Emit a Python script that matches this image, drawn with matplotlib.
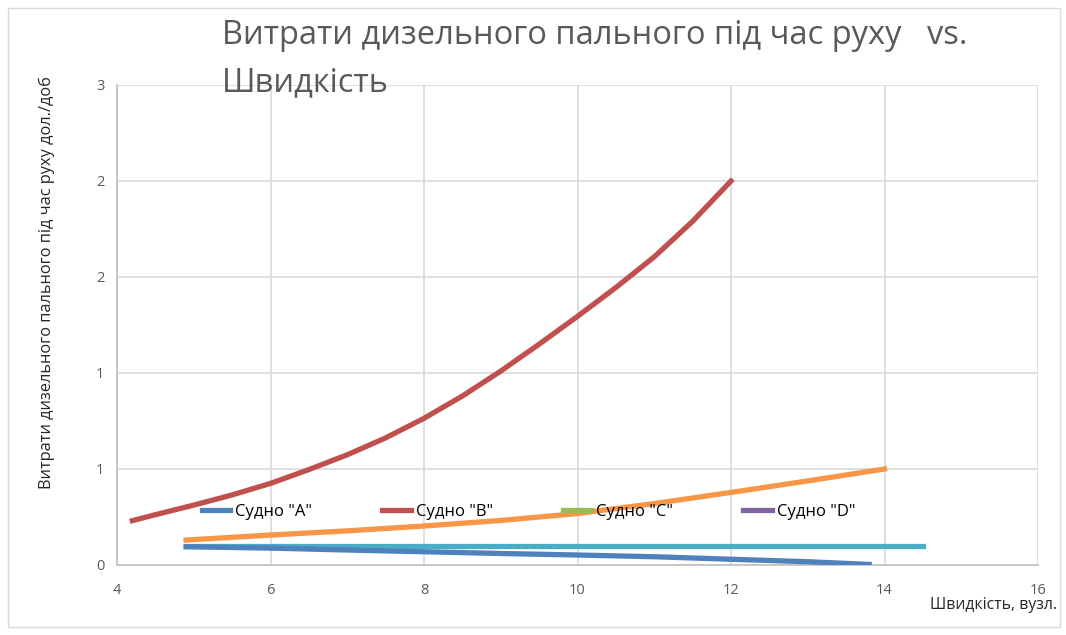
import matplotlib
matplotlib.use('Agg')
import matplotlib.pyplot as plt
from matplotlib.patches import Rectangle
from matplotlib.ticker import FuncFormatter, MultipleLocator
import numpy as np

plt.rcParams['font.family'] = ['Open Sans', 'DejaVu Sans']

# data
x_a = [4.9, 6, 7, 8, 9, 10, 11, 12, 13, 13.8]
y_a = [0.095, 0.088, 0.078, 0.069, 0.060, 0.052, 0.043, 0.030, 0.017, 0.003]

x_b = [4.2, 4.5, 5, 5.5, 6, 6.5, 7, 7.5, 8, 8.5, 9, 9.5, 10, 10.5, 11, 11.5, 12]
y_b = [0.231, 0.262, 0.312, 0.365, 0.425, 0.497, 0.574, 0.662, 0.764, 0.88,
       1.01, 1.15, 1.295, 1.445, 1.605, 1.79, 2.0]

x_e = [4.9, 6, 7, 8, 9, 10, 11, 12, 13, 14]
y_e = [0.13, 0.156, 0.178, 0.203, 0.232, 0.268, 0.32, 0.378, 0.438, 0.5]

x_f = [4.9, 14.5]
y_f = [0.099, 0.099]

labels = ['Судно "A"', 'Судно "B"', 'Судно "C"', 'Судно "D"']
colors = ['#4F81BD', '#C0504D', '#9BBB59', '#8064A2']
extra_colors = ['#F79646', '#4BACC6']

title = 'Витрати дизельного пального під час руху   vs.\nШвидкість'
ylabel = 'Витрати дизельного пального під час руху дол./доб'
xlabel = 'Швидкість, вузл.'

fig = plt.figure(figsize=(10.66, 6.35), dpi=100)
ax = fig.add_axes([117 / 1066, 1 - 565 / 635, (1038 - 117) / 1066, (565 - 85) / 635])

lw = 3.8
ax.plot(x_e, y_e, color=extra_colors[0], lw=lw, zorder=2)
ax.plot(x_f, y_f, color=extra_colors[1], lw=lw, zorder=2)
ax.plot(x_a, y_a, color=colors[0], lw=lw, label=labels[0], zorder=3)
ax.plot(x_b, y_b, color=colors[1], lw=lw, label=labels[1], zorder=3)
ax.plot([], [], color=colors[2], lw=lw, label=labels[2])
ax.plot([], [], color=colors[3], lw=lw, label=labels[3])

ax.set_xlim(4, 16)
ax.set_ylim(0, 2.5)
ax.xaxis.set_major_locator(MultipleLocator(2))
ax.yaxis.set_major_locator(MultipleLocator(0.5))
ax.yaxis.set_major_formatter(FuncFormatter(lambda v, p: '%d' % int(np.floor(v + 0.5))))
ax.grid(True, color='#d9d9d9', lw=1.2)
ax.set_axisbelow(True)
for s in ['top', 'right']:
    ax.spines[s].set_visible(False)
for s in ['left', 'bottom']:
    ax.spines[s].set_color('#bfbfbf')
    ax.spines[s].set_linewidth(1.2)
ax.tick_params(length=0, labelsize=10.5, colors='#595959')
ax.tick_params(axis='x', pad=13)
ax.tick_params(axis='y', pad=9)

ax.legend(loc='center left', bbox_to_anchor=(195 / 1066, 1 - 512 / 635, (862 - 195) / 1066, 0.0),
          bbox_transform=fig.transFigure, ncol=4, mode='expand', frameon=False,
          fontsize=12, handlelength=1.7, handletextpad=0.3, borderaxespad=0)

fig.text(222 / 1066, 1 - 19 / 635, title, ha='left', va='top', fontsize=23.5,
         color='#595959', linespacing=1.55)
fig.text(47 / 1066, 1 - 283 / 635, ylabel, rotation=90, ha='center', va='center',
         fontsize=11.8, color='#262626')
fig.text(1057 / 1066, 1 - 605 / 635, xlabel, ha='right', va='center',
         fontsize=11.3, color='#262626')

fig.patches.append(Rectangle((8 / 1066, 8 / 635), 1 - 14 / 1066, 1 - 16 / 635,
                             transform=fig.transFigure, fill=False,
                             edgecolor='#d9d9d9', lw=1))

fig.savefig('out.png', dpi=100)
